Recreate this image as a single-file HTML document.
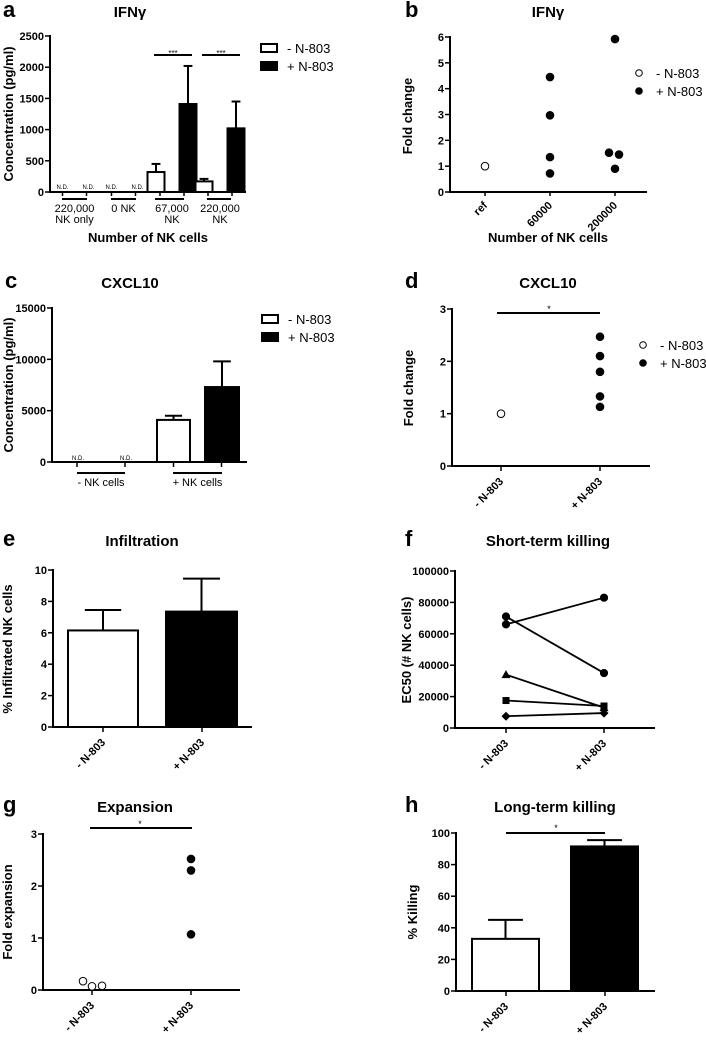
<!DOCTYPE html>
<html><head><meta charset="utf-8"><style>
html,body{margin:0;padding:0;background:#fff;}
svg{display:block;font-family:"Liberation Sans",Arial,sans-serif;}
</style></head><body>
<svg id="fig" width="706" height="1041" viewBox="0 0 706 1041" xmlns="http://www.w3.org/2000/svg"></svg>
<script>
// ---- data ----
const aCats = ["220,000|NK only","0 NK","67,000|NK","220,000|NK"];
const aMinus = [0,0,320,170];
const aMinusErr = [0,0,450,210];
const aPlus = [0,0,1410,1020];
const aPlusErr = [0,0,2020,1450];
const aTicks = [0,500,1000,1500,2000,2500];
const bCats = ["ref","60000","200000"];
const bRef = [1];
const b60 = [4.45,2.97,1.35,0.72];
const b200 = [5.92,1.52,1.45,0.9];
const bTicks = [0,1,2,3,4,5,6];
const cCats = ["- NK cells","+ NK cells"];
const cMinus = [0,4100];
const cMinusErr = [0,4500];
const cPlus = [0,7300];
const cPlusErr = [0,9800];
const cTicks = [0,5000,10000,15000];
const dMinus = [1];
const dPlus = [2.47,2.1,1.8,1.33,1.13];
const dTicks = [0,1,2,3];
const eVals = [6.15,7.35];
const eErr = [7.45,9.45];
const eTicks = [0,2,4,6,8,10];
const fMinus = [71000,66000,34000,17500,7500];
const fPlus = [35000,83000,13000,14000,9500];
const fMarkers = ["circle","circle","triangle","square","diamond"];
const fTicks = [0,20000,40000,60000,80000,100000];
const gMinus = [0.17,0.07,0.08];
const gPlus = [2.52,2.3,1.07];
const gTicks = [0,1,2,3];
const hVals = [33,91.5];
const hErr = [45,95.5];
const hTicks = [0,20,40,60,80,100];
const nLabels = ["- N-803","+ N-803"];

const svg=document.getElementById('fig');
const NS="http://www.w3.org/2000/svg";
function mk(tag,attrs,name,parent){
  const el=document.createElementNS(NS,tag);
  for(const k in attrs) el.setAttribute(k,attrs[k]);
  
  
  (parent||svg).appendChild(el);
  return el;
}
function txt(x,y,s,name,opt){
  opt=opt||{};
  const t=mk('text',{x:x,y:y,'font-size':opt.size||11,'font-weight':opt.weight||'bold','text-anchor':opt.anchor||'middle',fill:'#000'},name);
  if(opt.rot!==undefined) t.setAttribute('transform','rotate('+opt.rot+' '+x+' '+y+')');
  t.textContent=s;return t;
}
function line(x1,y1,x2,y2,name,w){return mk('line',{x1:x1,y1:y1,x2:x2,y2:y2,stroke:'#000','stroke-width':w||2},name);}
function scale(d0,d1,r0,r1){return v=>r0+(v-d0)*(r1-r0)/(d1-d0);}
function axes(x0,yTop,y0,xEnd,ticks,y,fmt,pre){
  line(x0,yTop-1,x0,y0+1,pre+'-y-axis');
  line(x0-1,y0,xEnd,y0,pre+'-x-axis');
  ticks.forEach(t=>{const yy=y(t);line(x0-5,yy,x0,yy,pre+'-y-tick',1.5);
    txt(x0-6,yy+4,fmt?fmt(t):String(t),pre+'-y-tick-label',{anchor:'end',size:11});});
}
function title(x,y,s,pre){txt(x,y,s,pre+'-title',{size:15});}
function letter(x,y,s){txt(x,y,s,'panel-'+s+'-letter',{size:22,anchor:'start'});}
function ytitle(x,yc,s,pre){txt(x,yc,s,pre+'-y-axis-title',{size:13,rot:-90});}
function bar(x1,x2,y0,yv,yerr,filled,name){
  mk('rect',{x:x1,y:Math.min(yv,y0),width:x2-x1,height:Math.abs(y0-yv),fill:filled?'#000':'#fff',stroke:'#000','stroke-width':2},name);
  const xc=(x1+x2)/2,w=(x2-x1)*0.26;
  line(xc,yv,xc,yerr,name+'-error');line(xc-w,yerr,xc+w,yerr,name+'-error-cap');
}
function dot(x,y,open,name,r){mk('circle',{cx:x,cy:y,r:r||3.8,fill:open?'#fff':'#000',stroke:'#000','stroke-width':1},name);}
function rotLabel(x,y,s,pre){txt(x+3,y+10,s,pre+'-x-tick-label',{anchor:'end',size:11,rot:-45});}
function legendBox(x,y,pre){
  nLabels.forEach((l,i)=>{mk('rect',{x:x,y:y+i*18,width:16,height:8,fill:i?'#000':'#fff',stroke:'#000','stroke-width':2},pre+'-legend-swatch');
    txt(x+26,y+i*18+9,l,pre+'-legend-label',{anchor:'start',size:13,weight:'normal'});});
}
function legendDot(x,y,pre){
  nLabels.forEach((l,i)=>{dot(x,y+i*18,i===0,pre+'-legend-marker',3.3);
    txt(x+17,y+i*18+5,l,pre+'-legend-label',{anchor:'start',size:13,weight:'normal'});});
}

// ---- panel a ----
(function(){
  const y=scale(0,2500,192,36);
  letter(3,17,'a');title(130,17,'IFNγ','a');
  axes(50,36,192,246,aTicks,y,null,'a');
  ytitle(13,114,'Concentration (pg/ml)','a');
  const gx=[[62,87],[111,136],[155,184],[207,231]];
  const bw=17, ctr=[74.5,123.5,172,220];
  aCats.forEach((c,i)=>{
    const xm=ctr[i]-12, xp=ctr[i]+12;
    line(xm,192,xm,196,'a-x-tick',1.5);line(xp,192,xp,196,'a-x-tick',1.5);
    if(aMinus[i]===0){txt(xm,189,'N.D.','a-nd-label',{size:6,weight:'normal'});txt(xp+2,189,'N.D.','a-nd-label',{size:6,weight:'normal'});}
    else{bar(xm-bw/2-4,xm+bw/2-4,192,y(aMinus[i]),y(aMinusErr[i]),false,'a-bar-minus');
      bar(xp-bw/2+4,xp+bw/2+4,192,y(aPlus[i]),y(aPlusErr[i]),true,'a-bar-plus');
      line(xm-6,55,xp+8,55,'a-significance-line');txt(ctr[i]+1,56,'***','a-significance-label',{size:8,weight:'normal'});}
    line(gx[i][0],199,gx[i][1],199,'a-group-line');
    const parts=c.split('|');
    parts.forEach((p,j)=>txt(ctr[i],212+j*11,p,'a-x-tick-label',{size:11,weight:'normal'}));
  });
  txt(148,242,'Number of NK cells','a-x-axis-title',{size:13});
  legendBox(261,44,'a');
})();

// ---- panel b ----
(function(){
  const y=scale(0,6,192,37);
  letter(405,17,'b');title(548,17,'IFNγ','b');
  axes(450,37,192,647,bTicks,y,null,'b');
  ytitle(412,116,'Fold change','b');
  const xs=[485,550,615];
  xs.forEach((x,i)=>{line(x,192,x,196,'b-x-tick',1.5);rotLabel(x,196,bCats[i],'b');});
  bRef.forEach(v=>dot(xs[0],y(v),true,'b-point-ref'));
  b60.forEach(v=>dot(xs[1],y(v),false,'b-point-60000'));
  const off=[0,-6,4,0];
  b200.forEach((v,i)=>dot(xs[2]+off[i],y(v),false,'b-point-200000'));
  txt(548,242,'Number of NK cells','b-x-axis-title',{size:13});
  legendDot(639,73,'b');
})();

// ---- panel c ----
(function(){
  const y=scale(0,15000,462,308);
  letter(5,288,'c');title(130,288,'CXCL10','c');
  axes(52,308,462,247,cTicks,y,null,'c');
  ytitle(13,385,'Concentration (pg/ml)','c');
  const ctr=[101,197.5];
  const gx=[[77,125],[173,222]];
  cCats.forEach((c,i)=>{
    const xm=ctr[i]-24,xp=ctr[i]+24;
    line(xm,462,xm,467,'c-x-tick',1.5);line(xp,462,xp,467,'c-x-tick',1.5);
    if(cMinus[i]===0){txt(xm+1,460,'N.D.','c-nd-label',{size:6,weight:'normal'});txt(xp+1,460,'N.D.','c-nd-label',{size:6,weight:'normal'});}
    else{bar(157,190,462,y(cMinus[i]),y(cMinusErr[i]),false,'c-bar-minus');
      bar(205,239,462,y(cPlus[i]),y(cPlusErr[i]),true,'c-bar-plus');}
    line(gx[i][0],473,gx[i][1],473,'c-group-line');
    txt(ctr[i],486,c,'c-x-tick-label',{size:11,weight:'normal'});
  });
  legendBox(262,315,'c');
})();

// ---- panel d ----
(function(){
  const y=scale(0,3,466,309);
  letter(405,288,'d');title(548,288,'CXCL10','d');
  axes(452,309,466,650,dTicks,y,null,'d');
  ytitle(413,388,'Fold change','d');
  const xs=[501,600];
  xs.forEach((x,i)=>{line(x,466,x,471,'d-x-tick',1.5);rotLabel(x,472,nLabels[i],'d');});
  dMinus.forEach(v=>dot(xs[0],y(v),true,'d-point-minus'));
  dPlus.forEach(v=>dot(xs[1],y(v),false,'d-point-plus'));
  line(497,313,600,313,'d-significance-line');txt(549,312,'*','d-significance-label',{size:9,weight:'normal'});
  legendDot(643,345,'d');
})();

// ---- panel e ----
(function(){
  const y=scale(0,10,727,570);
  letter(3,546,'e');title(142,546,'Infiltration','e');
  axes(53,570,727,252,eTicks,y,null,'e');
  ytitle(12,649,'% Infiltrated NK cells','e');
  const xs=[103,202],bx=[[68,138],[166,237]];
  xs.forEach((x,i)=>{line(x,727,x,732,'e-x-tick',1.5);rotLabel(x,733,nLabels[i],'e');
    bar(bx[i][0],bx[i][1],727,y(eVals[i]),y(eErr[i]),i===1,i?'e-bar-plus':'e-bar-minus');});
})();

// ---- panel f ----
(function(){
  const y=scale(0,100000,728,571);
  letter(405,546,'f');title(548,546,'Short-term killing','f');
  axes(455,571,728,655,fTicks,y,null,'f');
  ytitle(411,650,'EC50 (# NK cells)','f');
  const xs=[506,604];
  xs.forEach((x,i)=>{line(x,728,x,733,'f-x-tick',1.5);rotLabel(x,734,nLabels[i],'f');});
  function marker(x,yy,m,name){
    if(m==='circle') dot(x,yy,false,name,3.6);
    else if(m==='square') mk('rect',{x:x-3.5,y:yy-3.5,width:7,height:7,fill:'#000'},name);
    else if(m==='triangle') mk('polygon',{points:(x)+','+(yy-4.5)+' '+(x-4.5)+','+(yy+3.5)+' '+(x+4.5)+','+(yy+3.5),fill:'#000'},name);
    else mk('polygon',{points:(x)+','+(yy-4.5)+' '+(x+4.5)+','+yy+' '+x+','+(yy+4.5)+' '+(x-4.5)+','+yy,fill:'#000'},name);
  }
  fMinus.forEach((v,i)=>{
    line(xs[0],y(v),xs[1],y(fPlus[i]),'f-donor-line',1.8);
    marker(xs[0],y(v),fMarkers[i],'f-point-minus');marker(xs[1],y(fPlus[i]),fMarkers[i],'f-point-plus');
  });
})();

// ---- panel g ----
(function(){
  const y=scale(0,3,990,834);
  letter(3,812,'g');title(135,812,'Expansion','g');
  axes(43,834,990,240,gTicks,y,null,'g');
  ytitle(12,912,'Fold expansion','g');
  const xs=[92,191];
  xs.forEach((x,i)=>{line(x,990,x,995,'g-x-tick',1.5);rotLabel(x,996,nLabels[i],'g');});
  const off=[-9,0,10];
  gMinus.forEach((v,i)=>dot(xs[0]+off[i],y(v),true,'g-point-minus'));
  gPlus.forEach(v=>dot(xs[1],y(v),false,'g-point-plus'));
  line(90,828,192,828,'g-significance-line');txt(140,827,'*','g-significance-label',{size:9,weight:'normal'});
})();

// ---- panel h ----
(function(){
  const y=scale(0,100,991,833);
  letter(405,812,'h');title(555,812,'Long-term killing','h');
  axes(456,833,991,655,hTicks,y,null,'h');
  ytitle(417,912,'% Killing','h');
  const xs=[506,605],bx=[[472,539],[571,638]];
  xs.forEach((x,i)=>{line(x,991,x,996,'h-x-tick',1.5);rotLabel(x,997,nLabels[i],'h');
    bar(bx[i][0],bx[i][1],991,y(hVals[i]),y(hErr[i]),i===1,i?'h-bar-plus':'h-bar-minus');});
  line(506,833,605,833,'h-significance-line');txt(556,831,'*','h-significance-label',{size:9,weight:'normal'});
})();
</script>
</body></html>
